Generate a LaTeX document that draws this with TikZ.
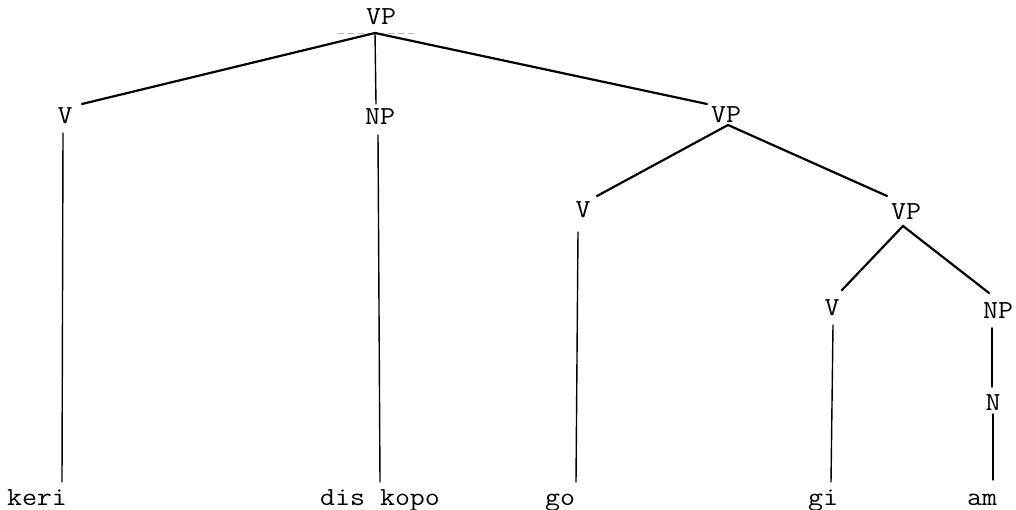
\documentclass[tikz,border=0pt]{standalone}
\usepackage{fontspec}
\setmonofont{Latin Modern Mono}[FakeStretch=1.12]
\begin{document}
\begin{tikzpicture}[x=1pt,y=-1pt,
  lab/.style={font=\ttfamily\fontsize{26}{26}\selectfont, anchor=base, inner sep=0pt},
  branch/.style={line width=2.2pt, line cap=round},
  stem/.style={line width=1.4pt, line cap=round}]
\useasboundingbox (0,0) rectangle (1016,510);
% labels
\node[lab] (vp0) at (381,25) {VP};
\node[lab] (v1) at (65,124) {V};
\node[lab] (np1) at (380,125) {NP};
\node[lab] (vp1) at (726,123) {VP};
\node[lab] (v2) at (583,218) {V};
\node[lab] (vp2) at (906,220) {VP};
\node[lab] (v3) at (832,315) {V};
\node[lab] (np3) at (998,318) {NP};
\node[lab] (n3) at (993,410) {N};
\node[lab] (w1) at (37,505) {keri};
\node[lab] (w2) at (380,505) {dis kopo};
\node[lab] (w3) at (560,505) {go};
\node[lab] (w4) at (823,505) {gi};
\node[lab] (w5) at (982,505) {am};
% connector end points
\coordinate (a0) at (375,33);
\coordinate (a1) at (728,125);
\coordinate (a2) at (903,226);
\coordinate (v1t) at (82,104);
\coordinate (np1t) at (376,104);
\coordinate (vp1t) at (707,104);
\coordinate (v2t) at (597,196);
\coordinate (vp2t) at (887,196);
\coordinate (v3t) at (842,290);
\coordinate (np3t) at (989,293);
\coordinate (v1b) at (63,133);
\coordinate (w1t) at (62,482);
\coordinate (np1b) at (378,135);
\coordinate (w2t) at (380,482);
\coordinate (v2b) at (578,232);
\coordinate (w3t) at (576,482);
\coordinate (v3b) at (833,325);
\coordinate (w4t) at (831,482);
\coordinate (np3b) at (992,328);
\coordinate (n3t) at (992,387);
\coordinate (n3b) at (993,414);
\coordinate (w5t) at (993,480);
\coordinate (cb1) at (338,33);
\coordinate (cb2) at (415,33);
% faint crossbar
\draw[gray!60, line width=0.6pt, dash pattern=on 6pt off 4pt] (cb1) -- (cb2);
% branches
\draw[branch] (v1t) -- (a0) -- (vp1t);
\draw[stem] (a0) -- (np1t);
\draw[branch] (v2t) -- (a1) -- (vp2t);
\draw[branch] (v3t) -- (a2) -- (np3t);
% stems
\draw[stem] (v1b) -- (w1t);
\draw[stem] (np1b) -- (w2t);
\draw[stem] (v2b) -- (w3t);
\draw[stem] (v3b) -- (w4t);
\draw[stem] (np3b) -- (n3t);
\draw[stem] (n3b) -- (w5t);
\end{tikzpicture}
\end{document}
